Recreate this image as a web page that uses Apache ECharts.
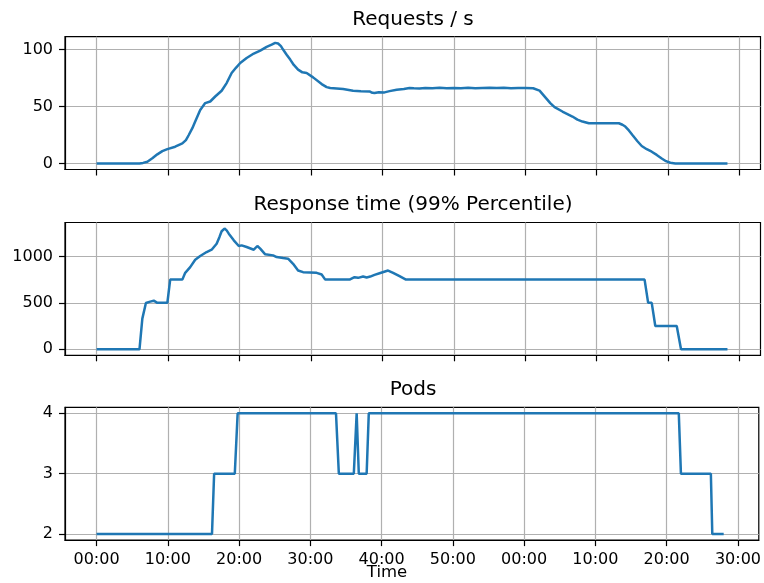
<!DOCTYPE html>
<html>
<head>
<meta charset="utf-8">
<script src="https://cdn.jsdelivr.net/npm/echarts@6/dist/echarts.min.js"></script>
<style>
html,body{margin:0;padding:0;background:#fff;}
#chart{width:764px;height:583px;}
</style>
</head>
<body>
<div id="chart"></div>
<script>
// ---- data (time in minutes since start) ----
const titles = ['Requests / s', 'Response time (99% Percentile)', 'Pods'];
const xLabel = 'Time';
const xTicks = [0, 10, 20, 30, 40, 50, 60, 70, 80, 90];

const reqTime = [0, 6.0, 6.5, 7.1, 7.8, 8.5, 9.2, 9.9, 11.0, 12.0, 12.5, 12.9, 13.4, 13.8, 14.5, 15.2, 15.9, 16.6, 17.5, 18.2, 18.9, 19.5, 20.1, 21.0, 22.0, 22.9, 23.8, 24.5, 25.0, 25.4, 25.8, 26.1, 26.6, 27.1, 27.6, 28.2, 28.8, 29.4, 30.3, 31.5, 32.2, 32.7, 34.5, 35.9, 37.0, 38.2, 38.6, 38.9, 39.5, 40.3, 41.0, 42.0, 43.0, 43.8, 44.4, 45.2, 46, 47, 48, 49, 50, 51, 52, 53, 54, 55, 56, 57, 58, 59, 60, 61.1, 62.0, 62.9, 63.5, 64.1, 65.2, 66.6, 67.3, 68.0, 68.9, 71.0, 73.1, 73.6, 74.0, 74.5, 75.0, 75.7, 76.3, 77.0, 77.7, 78.4, 79.1, 79.7, 80.3, 81.0, 88.3];
const reqValue = [0, 0, 0.5, 1.5, 4.5, 8, 10.8, 12.6, 14.7, 17.6, 20.5, 25, 31, 36.8, 47, 53, 54.4, 58.8, 63.8, 70.6, 79.4, 84, 88.2, 92.6, 96.5, 99.1, 102.4, 104.3, 105.9, 105.3, 103, 100, 95.5, 91.2, 86.5, 82.4, 80, 79.4, 75.6, 69.7, 67, 66.2, 65.3, 63.8, 63.5, 63.2, 62, 61.8, 62.6, 62.4, 63.5, 64.7, 65.3, 66.2, 66, 65.9, 66.3, 66, 66.4, 66, 66.3, 66.1, 66.4, 66, 66.3, 66.5, 66.2, 66.4, 66.1, 66.3, 66.3, 66, 64, 57.4, 53, 49.4, 45.6, 41.2, 38.5, 36.8, 35.3, 35.3, 35.3, 34, 32.4, 29, 25, 19.5, 15.3, 12.5, 10.3, 7.5, 4.4, 2, 0.6, 0, 0];

const rtTime = [0, 6.0, 6.4, 6.9, 7.5, 8.0, 8.5, 9.9, 10.3, 12.0, 12.4, 13.1, 13.8, 14.5, 15.4, 16.1, 16.8, 17.2, 17.5, 17.9, 18.2, 18.5, 19.2, 19.9, 20.3, 21.0, 22.0, 22.5, 22.9, 23.6, 24.7, 25.2, 26.1, 26.8, 27.5, 28.2, 28.9, 30.8, 31.5, 32.0, 35.4, 36.1, 36.6, 37.3, 37.8, 38.3, 38.9, 39.6, 40.8, 41.5, 42.4, 43.3, 76.7, 77.2, 77.7, 78.2, 81.2, 81.8, 88.3];
const rtValue = [0, 0, 330, 498, 513, 523, 500, 500, 750, 750, 823, 884, 964, 1004, 1047, 1072, 1137, 1210, 1271, 1300, 1280, 1245, 1173, 1112, 1119, 1101, 1072, 1112, 1083, 1022, 1011, 993, 982, 975, 920, 848, 830, 823, 805, 750, 750, 776, 769, 783, 773, 783, 801, 819, 848, 823, 787, 750, 750, 500, 500, 250, 250, 0, 0];

const podTime = [0, 16.2, 16.5, 19.4, 19.8, 33.6, 34.0, 36.1, 36.5, 36.8, 37.9, 38.2, 81.7, 82.0, 86.2, 86.4, 88.0];
const podValue = [2, 2, 3, 3, 4, 4, 3, 3, 4, 3, 3, 4, 4, 3, 3, 2, 2];

const yTicks = [[0, 50, 100], [0, 500, 1000], [2, 3, 4]];
const yRange = [[-5.3, 111.3], [-65, 1365], [1.9, 4.1]];
const xRange = [-4.425, 92.925];

// ---- chart ----
const font = 'DejaVu Sans';
const gridTops = [36.7, 222.5, 407.3];
const gridH = 132.8;
const gridLeft = 65, gridW = 695.5;

function fmtX(v) {
  const m = ((Math.round(v) % 60) + 60) % 60;
  return (m < 10 ? '0' : '') + m + ':00';
}
const fmtY = v => String(v);
const pairs = (t, v) => t.map((x, i) => [x, v[i]]);
const seriesData = [pairs(reqTime, reqValue), pairs(rtTime, rtValue), pairs(podTime, podValue)];

const grids = [], xAxes = [], yAxes = [], series = [];
for (let i = 0; i < 3; i++) {
  grids.push({left: gridLeft, top: gridTops[i], width: gridW, height: gridH, show: true,
    borderColor: '#000', borderWidth: 1.2, backgroundColor: 'transparent', containLabel: false});
  xAxes.push({type: 'value', gridIndex: i, min: xRange[0], max: xRange[1],
    axisLine: {show: true, onZero: false, lineStyle: {color: '#000', width: 1.2}},
    axisTick: {show: true, length: 6, inside: false, customValues: xTicks, lineStyle: {color: '#000', width: 1.2}},
    axisLabel: {show: i === 2, customValues: xTicks, formatter: fmtX, fontSize: 16, color: '#000', margin: 12, fontFamily: font},
    splitLine: {show: true, lineStyle: {color: '#b0b0b0', width: 1.2}}});
  yAxes.push({type: 'value', gridIndex: i, min: yRange[i][0], max: yRange[i][1],
    axisLine: {show: true, onZero: false, lineStyle: {color: '#000', width: 1.2}},
    axisTick: {show: true, length: 6, inside: false, customValues: yTicks[i], lineStyle: {color: '#000', width: 1.2}},
    axisLabel: {show: true, customValues: yTicks[i], formatter: fmtY, fontSize: 16, color: '#000', margin: 12, fontFamily: font},
    splitLine: {show: true, lineStyle: {color: '#b0b0b0', width: 1.2}}});
  series.push({type: 'line', xAxisIndex: i, yAxisIndex: i, data: seriesData[i], showSymbol: false,
    symbol: 'none', lineStyle: {color: '#1f77b4', width: 2.5}, itemStyle: {color: '#1f77b4'}, z: 5});
}

const chart = echarts.init(document.getElementById('chart'), null, {renderer: 'canvas'});
chart.setOption({
  animation: false,
  backgroundColor: '#fff',
  grid: grids,
  xAxis: xAxes,
  yAxis: yAxes,
  series: series,
  graphic: [
    {type: 'text', x: 413, y: 19.8, style: {text: titles[0], fontSize: 20, fontFamily: font, fill: '#000', align: 'center', verticalAlign: 'middle'}},
    {type: 'text', x: 413, y: 204.8, style: {text: titles[1], fontSize: 20, fontFamily: font, fill: '#000', align: 'center', verticalAlign: 'middle'}},
    {type: 'text', x: 413, y: 390, style: {text: titles[2], fontSize: 20, fontFamily: font, fill: '#000', align: 'center', verticalAlign: 'middle'}},
    {type: 'text', x: 387, y: 572.5, style: {text: xLabel, fontSize: 16.5, fontFamily: font, fill: '#000', align: 'center', verticalAlign: 'middle'}}
  ]
});
</script>
</body>
</html>
